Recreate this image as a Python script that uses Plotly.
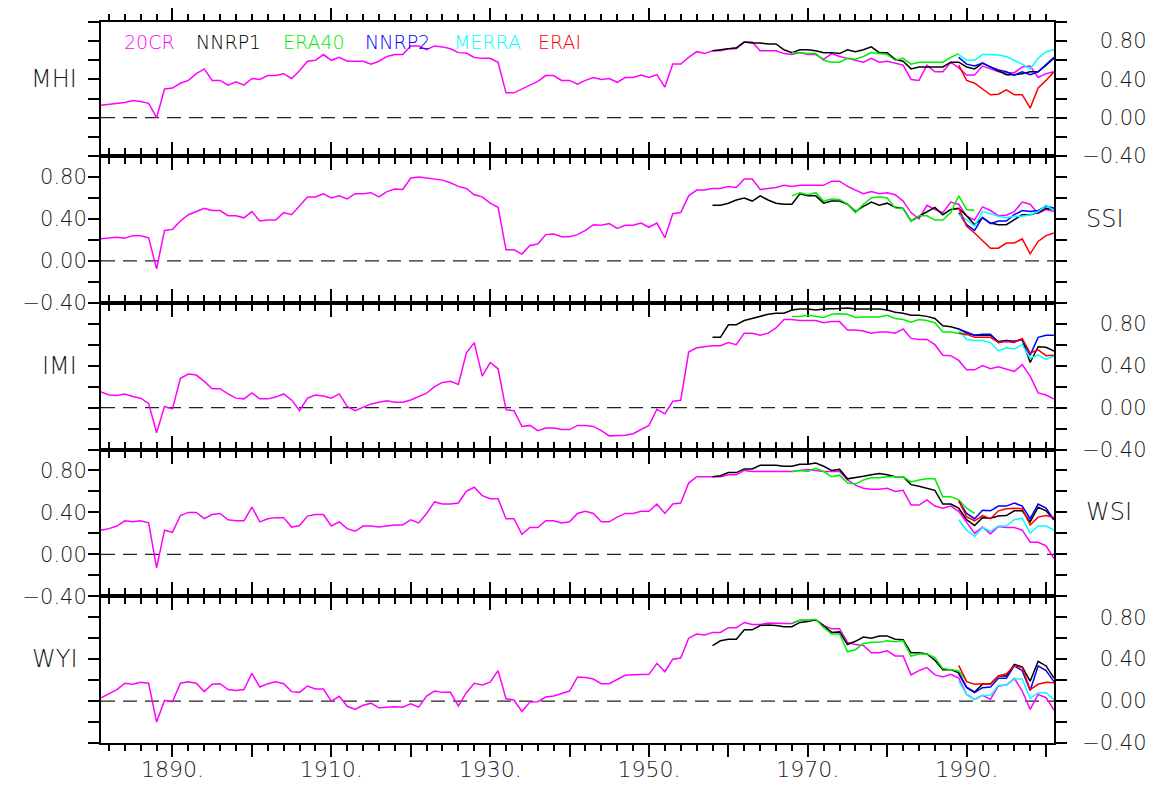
import plotly.graph_objects as go

# ---------------- data ----------------
years_20cr = list(range(1881, 2002))
years_nnrp1 = list(range(1958, 2002))
years_era40 = list(range(1968, 1992))
years_recent = list(range(1989, 2002))

panel_names = ["MHI", "SSI", "IMI", "WSI", "WYI"]
label_side = ["left", "right", "left", "right", "left"]

cr20_mhi = [0.13, 0.14, 0.146, 0.16, 0.18, 0.17, 0.15, 0.00, 0.30, 0.31,
            0.36, 0.39, 0.46, 0.51, 0.39, 0.39, 0.34, 0.375, 0.34, 0.41,
            0.40, 0.44, 0.44, 0.46, 0.41, 0.49, 0.59, 0.60, 0.66, 0.60,
            0.63, 0.59, 0.59, 0.59, 0.56, 0.59, 0.64, 0.66, 0.66, 0.75,
            0.75, 0.71, 0.75, 0.74, 0.72, 0.68, 0.675, 0.63, 0.62, 0.62,
            0.58, 0.26, 0.26, 0.30, 0.34, 0.38, 0.44, 0.44, 0.39, 0.39,
            0.35, 0.39, 0.42, 0.40, 0.41, 0.37, 0.42, 0.42, 0.445, 0.42,
            0.45, 0.32, 0.56, 0.56, 0.63, 0.69, 0.67, 0.70, 0.70, 0.72,
            0.72, 0.79, 0.79, 0.70, 0.70, 0.70, 0.67, 0.66, 0.68, 0.66,
            0.66, 0.61, 0.67, 0.64, 0.62, 0.60, 0.58, 0.62, 0.58, 0.59,
            0.57, 0.55, 0.40, 0.39, 0.55, 0.48, 0.48, 0.58, 0.52, 0.445,
            0.445, 0.54, 0.51, 0.48, 0.47, 0.47, 0.53, 0.54, 0.42, 0.46,
            0.48]
cr20_ssi = [0.21, 0.22, 0.224, 0.215, 0.24, 0.24, 0.22, -0.077, 0.29, 0.30,
            0.38, 0.44, 0.47, 0.50, 0.48, 0.48, 0.43, 0.43, 0.41, 0.47,
            0.38, 0.39, 0.39, 0.46, 0.44, 0.52, 0.61, 0.61, 0.64, 0.60,
            0.62, 0.59, 0.64, 0.64, 0.65, 0.61, 0.66, 0.685, 0.68, 0.79,
            0.80, 0.79, 0.78, 0.77, 0.745, 0.71, 0.69, 0.63, 0.61, 0.55,
            0.51, 0.105, 0.105, 0.064, 0.147, 0.16, 0.25, 0.256, 0.23, 0.23,
            0.25, 0.29, 0.345, 0.34, 0.355, 0.31, 0.34, 0.34, 0.36, 0.32,
            0.36, 0.22, 0.45, 0.46, 0.62, 0.675, 0.675, 0.69, 0.69, 0.71,
            0.70, 0.78, 0.78, 0.68, 0.69, 0.70, 0.72, 0.71, 0.72, 0.72,
            0.72, 0.72, 0.76, 0.76, 0.71, 0.675, 0.64, 0.66, 0.64, 0.65,
            0.63, 0.57, 0.46, 0.40, 0.53, 0.49, 0.46, 0.56, 0.54, 0.425,
            0.39, 0.515, 0.48, 0.43, 0.435, 0.47, 0.56, 0.54, 0.45, 0.49,
            0.47]
cr20_imi = [0.15, 0.12, 0.115, 0.13, 0.105, 0.09, 0.04, -0.24, 0.01, -0.013,
            0.28, 0.32, 0.31, 0.25, 0.18, 0.18, 0.13, 0.09, 0.083, 0.14,
            0.083, 0.083, 0.10, 0.13, 0.073, -0.03, 0.09, 0.12, 0.11, 0.09,
            0.13, 0.01, -0.03, 0.003, 0.035, 0.05, 0.064, 0.05, 0.05, 0.073,
            0.105, 0.137, 0.20, 0.24, 0.25, 0.22, 0.52, 0.62, 0.30, 0.43,
            0.37, -0.02, -0.03, -0.18, -0.17, -0.22, -0.195, -0.195, -0.21, -0.21,
            -0.17, -0.17, -0.18, -0.22, -0.27, -0.27, -0.265, -0.25, -0.21, -0.17,
            -0.016, -0.06, 0.06, 0.07, 0.53, 0.57, 0.58, 0.59, 0.59, 0.62,
            0.60, 0.71, 0.71, 0.69, 0.71, 0.76, 0.84, 0.84, 0.83, 0.83,
            0.83, 0.81, 0.82, 0.82, 0.74, 0.74, 0.73, 0.71, 0.72, 0.72,
            0.71, 0.75, 0.66, 0.65, 0.65, 0.60, 0.50, 0.495, 0.45, 0.36,
            0.36, 0.40, 0.37, 0.39, 0.37, 0.345, 0.41, 0.30, 0.14, 0.12,
            0.08]
cr20_wsi = [0.23, 0.245, 0.27, 0.32, 0.31, 0.32, 0.30, -0.13, 0.23, 0.21,
            0.37, 0.40, 0.40, 0.34, 0.38, 0.39, 0.33, 0.32, 0.32, 0.45,
            0.31, 0.34, 0.35, 0.35, 0.26, 0.275, 0.365, 0.38, 0.38, 0.27,
            0.31, 0.245, 0.22, 0.27, 0.27, 0.26, 0.27, 0.28, 0.28, 0.33,
            0.30, 0.39, 0.50, 0.48, 0.48, 0.49, 0.60, 0.64, 0.56, 0.53,
            0.53, 0.34, 0.34, 0.19, 0.256, 0.256, 0.32, 0.32, 0.30, 0.31,
            0.39, 0.41, 0.39, 0.31, 0.31, 0.355, 0.39, 0.39, 0.41, 0.41,
            0.48, 0.39, 0.48, 0.49, 0.68, 0.74, 0.74, 0.74, 0.74, 0.76,
            0.76, 0.80, 0.79, 0.79, 0.79, 0.79, 0.79, 0.79, 0.80, 0.81,
            0.80, 0.79, 0.79, 0.79, 0.71, 0.66, 0.63, 0.62, 0.62, 0.63,
            0.60, 0.61, 0.47, 0.47, 0.52, 0.46, 0.44, 0.46, 0.41, 0.30,
            0.20, 0.26, 0.195, 0.265, 0.256, 0.256, 0.23, 0.115, 0.115, 0.08,
            -0.04]
cr20_wyi = [0.03, 0.07, 0.11, 0.17, 0.16, 0.18, 0.17, -0.20, 0.006, -0.006,
            0.17, 0.185, 0.17, 0.09, 0.16, 0.166, 0.11, 0.10, 0.11, 0.265,
            0.134, 0.166, 0.185, 0.166, 0.09, 0.083, 0.144, 0.115, 0.115, 0.0,
            0.045, -0.05, -0.08, -0.04, -0.02, -0.064, -0.058, -0.055, -0.058, -0.026,
            -0.058, 0.048, 0.096, 0.083, 0.083, -0.048, 0.08, 0.17, 0.153, 0.18,
            0.29, 0.022, 0.01, -0.10, -0.01, -0.006, 0.038, 0.048, 0.073, 0.096,
            0.23, 0.224, 0.21, 0.166, 0.166, 0.21, 0.246, 0.25, 0.255, 0.255,
            0.36, 0.28, 0.40, 0.41, 0.60, 0.64, 0.63, 0.655, 0.655, 0.70,
            0.70, 0.75, 0.73, 0.73, 0.745, 0.74, 0.74, 0.74, 0.77, 0.77,
            0.776, 0.72, 0.69, 0.69, 0.56, 0.54, 0.53, 0.46, 0.46, 0.48,
            0.43, 0.43, 0.25, 0.29, 0.32, 0.25, 0.23, 0.255, 0.22, 0.064,
            0.016, 0.054, 0.016, 0.144, 0.153, 0.217, 0.096, -0.08, 0.064, 0.032,
            -0.086]

nnrp1_mhi = [0.70, 0.71, 0.72, 0.73, 0.79, 0.78, 0.78, 0.77, 0.77, 0.71,
             0.68, 0.71, 0.71, 0.70, 0.68, 0.68, 0.67, 0.71, 0.69, 0.71,
             0.74, 0.68, 0.68, 0.61, 0.59, 0.51, 0.53, 0.53, 0.53, 0.53,
             0.58, 0.58, 0.53, 0.51, 0.57, 0.53, 0.49, 0.45, 0.45, 0.46,
             0.48, 0.48, 0.55, 0.62]
nnrp1_ssi = [0.53, 0.53, 0.55, 0.58, 0.60, 0.57, 0.62, 0.58, 0.55, 0.54,
             0.54, 0.64, 0.62, 0.62, 0.55, 0.57, 0.57, 0.54, 0.47, 0.52,
             0.56, 0.53, 0.55, 0.51, 0.50, 0.38, 0.425, 0.47, 0.51, 0.44,
             0.49, 0.50, 0.43, 0.345, 0.41, 0.36, 0.345, 0.345, 0.39, 0.44,
             0.44, 0.46, 0.50, 0.49]
nnrp1_imi = [0.67, 0.67, 0.79, 0.79, 0.83, 0.85, 0.87, 0.89, 0.90, 0.90,
             0.93, 0.94, 0.94, 0.93, 0.94, 0.94, 0.945, 0.95, 0.94, 0.94,
             0.94, 0.94, 0.93, 0.91, 0.90, 0.88, 0.88, 0.87, 0.85, 0.78,
             0.77, 0.75, 0.71, 0.69, 0.69, 0.69, 0.63, 0.64, 0.63, 0.65,
             0.43, 0.58, 0.575, 0.54]
nnrp1_wsi = [0.74, 0.75, 0.78, 0.78, 0.815, 0.815, 0.85, 0.85, 0.85, 0.84,
             0.84, 0.86, 0.86, 0.87, 0.84, 0.80, 0.81, 0.72, 0.73, 0.745,
             0.76, 0.77, 0.76, 0.74, 0.74, 0.665, 0.65, 0.63, 0.61, 0.48,
             0.48, 0.44, 0.33, 0.275, 0.35, 0.345, 0.365, 0.37, 0.415, 0.415,
             0.31, 0.45, 0.415, 0.33]
nnrp1_wyi = [0.53, 0.575, 0.59, 0.59, 0.68, 0.68, 0.72, 0.725, 0.72, 0.71,
             0.71, 0.75, 0.76, 0.776, 0.72, 0.655, 0.66, 0.54, 0.57, 0.61,
             0.60, 0.62, 0.62, 0.59, 0.585, 0.46, 0.46, 0.45, 0.39, 0.30,
             0.30, 0.27, 0.134, 0.086, 0.16, 0.166, 0.24, 0.24, 0.35, 0.326,
             0.19, 0.38, 0.335, 0.22]

era40_mhi = [0.68, 0.68, 0.67, 0.67, 0.60, 0.58, 0.58, 0.62, 0.61, 0.64,
             0.68, 0.67, 0.66, 0.60, 0.62, 0.56, 0.58, 0.58, 0.58, 0.58,
             0.63, 0.67]
era40_ssi = [0.62, 0.65, 0.63, 0.65, 0.57, 0.59, 0.585, 0.54, 0.46, 0.54,
             0.60, 0.61, 0.60, 0.505, 0.50, 0.38, 0.43, 0.43, 0.39, 0.39,
             0.46, 0.62, 0.49, 0.48]
era40_imi = [0.87, 0.87, 0.88, 0.87, 0.86, 0.89, 0.895, 0.89, 0.86, 0.865,
             0.865, 0.865, 0.88, 0.85, 0.84, 0.815, 0.84, 0.83, 0.81, 0.72,
             0.72, 0.71, 0.69]
era40_wsi = [0.79, 0.80, 0.79, 0.82, 0.79, 0.74, 0.755, 0.68, 0.67, 0.71,
             0.73, 0.73, 0.74, 0.74, 0.74, 0.69, 0.71, 0.72, 0.72, 0.55,
             0.55, 0.52, 0.44, 0.39]
era40_wyi = [0.745, 0.77, 0.77, 0.78, 0.70, 0.64, 0.64, 0.47, 0.49, 0.55,
             0.56, 0.56, 0.575, 0.565, 0.575, 0.43, 0.45, 0.45, 0.415, 0.31,
             0.30, 0.29, 0.19]

nnrp2_mhi = [0.63, 0.56, 0.54, 0.57, 0.53, 0.50, 0.48, 0.445, 0.48, 0.45, 0.48, 0.56, 0.63]
nnrp2_ssi = [0.46, 0.345, 0.29, 0.415, 0.355, 0.38, 0.38, 0.44, 0.48, 0.47, 0.48, 0.52, 0.505]
nnrp2_imi = [0.75, 0.72, 0.69, 0.70, 0.70, 0.62, 0.64, 0.63, 0.65, 0.50, 0.67, 0.69, 0.69]
nnrp2_wsi = [0.51, 0.39, 0.34, 0.42, 0.415, 0.46, 0.46, 0.49, 0.46, 0.34, 0.48, 0.44, 0.33]
nnrp2_wyi = [0.26, 0.128, 0.08, 0.128, 0.134, 0.217, 0.217, 0.335, 0.29, 0.10, 0.335, 0.29, 0.185]

merra_mhi = [0.66, 0.60, 0.60, 0.66, 0.66, 0.655, 0.64, 0.60, 0.56, 0.51, 0.62, 0.69, 0.71]
merra_ssi = [0.44, 0.39, 0.33, 0.47, 0.45, 0.425, 0.41, 0.425, 0.425, 0.44, 0.47, 0.53, 0.48]
merra_imi = [0.74, 0.65, 0.64, 0.64, 0.62, 0.54, 0.57, 0.56, 0.60, 0.47, 0.50, 0.46, 0.49]
merra_wsi = [0.33, 0.23, 0.17, 0.256, 0.22, 0.27, 0.27, 0.33, 0.345, 0.20, 0.27, 0.27, 0.23]
merra_wyi = [0.19, 0.064, 0.016, 0.054, 0.054, 0.15, 0.15, 0.21, 0.21, 0.026, 0.08, 0.08, 0.016]

erai_mhi = [0.55, 0.39, 0.36, 0.30, 0.24, 0.245, 0.29, 0.24, 0.24, 0.10, 0.31, 0.39, 0.48]
erai_ssi = [0.505, 0.33, 0.265, 0.19, 0.12, 0.12, 0.17, 0.17, 0.21, 0.067, 0.185, 0.24, 0.265]
erai_imi = [0.71, 0.70, 0.67, 0.67, 0.67, 0.62, 0.63, 0.62, 0.66, 0.52, 0.55, 0.495, 0.50]
erai_wsi = [0.51, 0.36, 0.32, 0.37, 0.34, 0.415, 0.435, 0.44, 0.435, 0.28, 0.355, 0.37, 0.35]
erai_wyi = [0.34, 0.185, 0.16, 0.166, 0.16, 0.24, 0.26, 0.335, 0.32, 0.11, 0.16, 0.18, 0.175]

series_names = ["20CR", "NNRP1", "ERA40", "NNRP2", "MERRA", "ERAI"]
series_colors = ["#ff00ff", "#000000", "#00ee00", "#0000ff", "#00ffff", "#ff0000"]

panels = [
    [cr20_mhi, nnrp1_mhi, era40_mhi, nnrp2_mhi, merra_mhi, erai_mhi],
    [cr20_ssi, nnrp1_ssi, era40_ssi, nnrp2_ssi, merra_ssi, erai_ssi],
    [cr20_imi, nnrp1_imi, era40_imi, nnrp2_imi, merra_imi, erai_imi],
    [cr20_wsi, nnrp1_wsi, era40_wsi, nnrp2_wsi, merra_wsi, erai_wsi],
    [cr20_wyi, nnrp1_wyi, era40_wyi, nnrp2_wyi, merra_wyi, erai_wyi],
]
series_years = [years_20cr, years_nnrp1, years_era40, years_recent, years_recent, years_recent]

x_tickvals = list(range(1890, 2001, 10))
x_ticktext = [f"{v}." if (v - 1890) % 20 == 0 else "" for v in x_tickvals]
y_tickvals = [-0.4, -0.2, 0.0, 0.2, 0.4, 0.6, 0.8, 1.0]
y_ticktext_left = ["\u22120.40", "", "0.00", "", "0.40", "", "0.80", ""]
# figure space + thin space pad so right-side labels line up on their right edge
PAD = "\u2007\u2009"
y_ticktext_right = ["\u22120.40", "", PAD + "0.00", "", PAD + "0.40", "", PAD + "0.80", ""]

# ---------------- layout geometry ----------------
# the page body adds an 8px margin, so the figure is sized to fit inside it
OFF = 8
W, H = 1154 - 2 * OFF, 794 - 2 * OFF
ML, MR, MT, MB = 101 - OFF, W - (1054 - OFF), 22 - OFF, H - (743 - OFF)
plot_h = H - MT - MB
p1_bottom_px = 156 - OFF
rest_h = (H - MB - p1_bottom_px) / 4.0
domains = []
top_px = MT
bottoms = [p1_bottom_px] + [p1_bottom_px + rest_h * (i + 1) for i in range(4)]
for b in bottoms:
    domains.append([(H - MB - b) / plot_h, (H - MB - top_px) / plot_h])
    top_px = b

FONT = "DejaVu Sans"
TXT = "#1a1a1a"
fig = go.Figure()

for k in range(5):
    xa = "x" if k == 0 else f"x{k+1}"
    ya = "y" if k == 0 else f"y{k+1}"
    for s in range(6):
        vals = panels[k][s]
        fig.add_trace(go.Scatter(
            x=series_years[s][:len(vals)], y=vals, mode="lines",
            line=dict(color=series_colors[s], width=1.5),
            xaxis=xa, yaxis=ya, showlegend=False, hoverinfo="skip"))
    fig.add_shape(type="line", xref=xa, yref=ya, x0=1881, x1=2001, y0=0, y1=0,
                  line=dict(color="#222222", width=1.2, dash="14px,8px"), layer="below")

    xkey = "xaxis" if k == 0 else f"xaxis{k+1}"
    ykey = "yaxis" if k == 0 else f"yaxis{k+1}"
    fig.layout[xkey] = dict(
        domain=[0, 1], range=[1881, 2001], anchor=ya, automargin=False,
        tickmode="array", tickvals=x_tickvals, ticktext=x_ticktext,
        ticks="outside", ticklen=12, tickwidth=2, tickcolor="black",
        showline=True, linecolor="black", linewidth=2, mirror="ticks",
        showgrid=False, zeroline=False, showticklabels=(k == 4),
        tickfont=dict(size=22, color=TXT, family=FONT),
        ticklabelstandoff=-6,
        minor=dict(tickmode="linear", tick0=1880, dtick=2, ticks="outside",
                   ticklen=6, tickwidth=2, tickcolor="black", showgrid=False),
    )
    side = "right" if k % 2 == 0 else "left"
    fig.layout[ykey] = dict(
        domain=domains[k], range=[-0.4, 1.0], anchor=xa, side=side, automargin=False,
        tickmode="array", tickvals=y_tickvals,
        ticktext=(y_ticktext_right if side == "right" else y_ticktext_left),
        ticks="outside", ticklen=11, tickwidth=2, tickcolor="black",
        showline=True, linecolor="black", linewidth=2, mirror="ticks",
        showgrid=False, zeroline=False,
        tickfont=dict(size=21, color=TXT, family=FONT),
        ticklabelstandoff=(11 if side == "right" else -3),
    )
    # panel name
    if label_side[k] == "left":
        fig.add_annotation(text=panel_names[k], xref="paper", yref=ya, x=0, y=0.4,
                           xanchor="right", yanchor="middle", xshift=-22, showarrow=False,
                           font=dict(size=24, color=TXT, family=FONT))
    else:
        fig.add_annotation(text=panel_names[k], xref="paper", yref=ya, x=1, y=0.4,
                           xanchor="left", yanchor="middle", xshift=30, showarrow=False,
                           font=dict(size=24, color=TXT, family=FONT))

# legend text row in the top panel
legend_px = [122, 194, 281, 363, 452, 536]
for name, col, px in zip(series_names, series_colors, legend_px):
    fig.add_annotation(text=name, xref="paper", yref="paper",
                       x=(px - 101) / (W - ML - MR), y=(H - MB - (42 - OFF)) / plot_h,
                       xanchor="left", yanchor="middle", showarrow=False,
                       font=dict(size=19, color=col, family=FONT))

fig.update_layout(
    width=W, height=H, margin=dict(l=ML, r=MR, t=MT, b=MB, autoexpand=False),
    paper_bgcolor="white", plot_bgcolor="white",
    font=dict(family=FONT, weight=300),
)
fig.write_html("out.html")
